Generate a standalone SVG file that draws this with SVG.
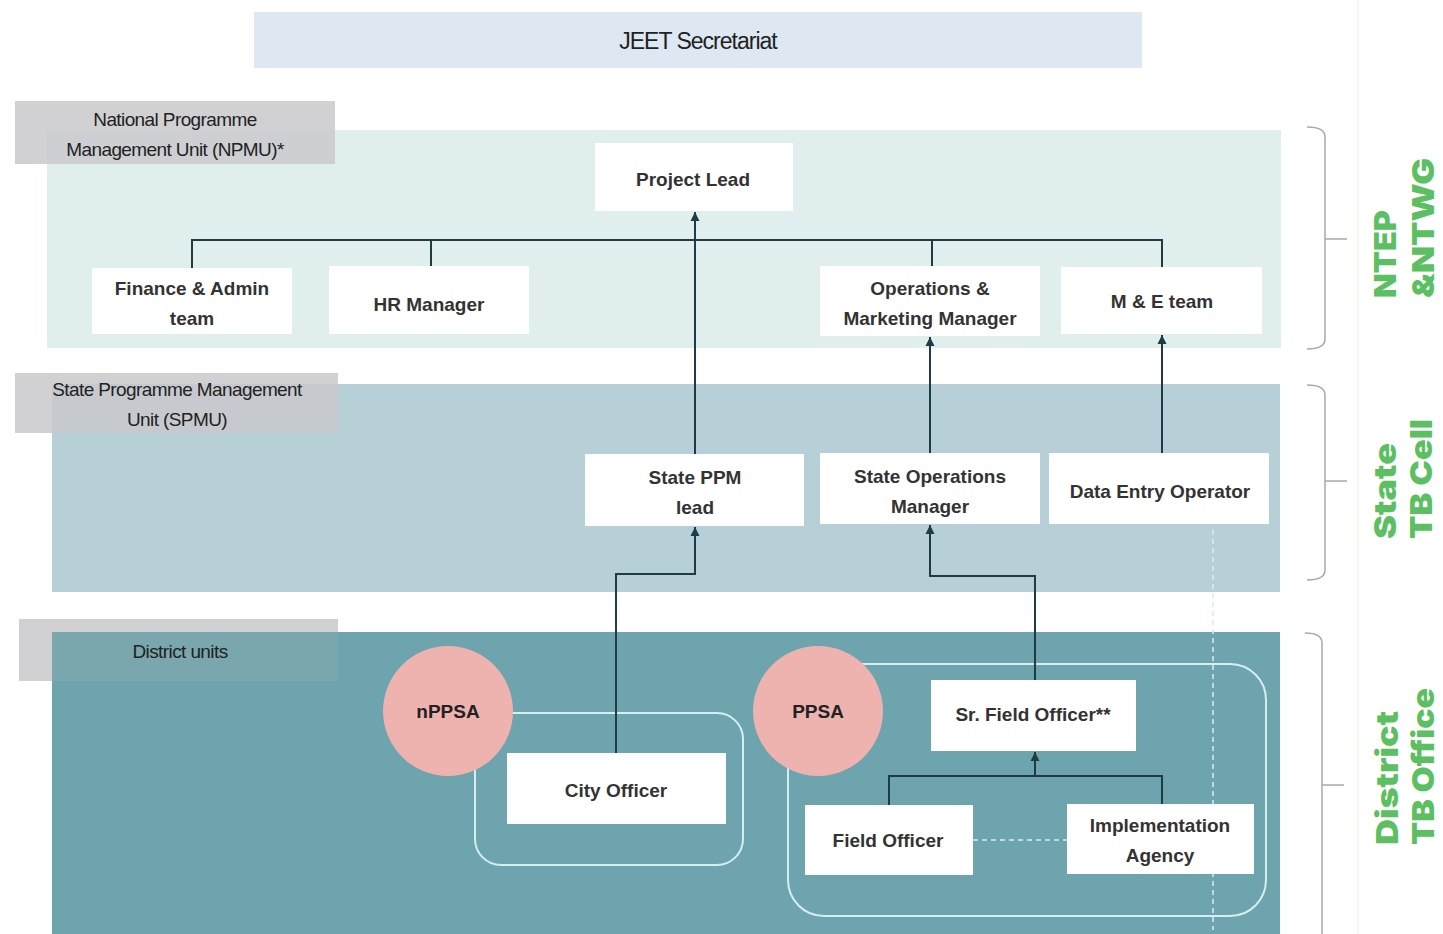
<svg xmlns="http://www.w3.org/2000/svg" width="1443" height="934" viewBox="0 0 1443 934">
<style>
.node rect{fill:#ffffff}
.node text{font-family:"Liberation Sans",Arial,sans-serif;font-weight:bold;font-size:19px;fill:#333;text-anchor:middle}
.lbl{font-family:"Liberation Sans",Arial,sans-serif;font-size:19px;fill:#222;text-anchor:middle;letter-spacing:-0.6px}
.gbox{fill:#c9c9cc;opacity:0.85}
.conn path{fill:none;stroke:#1f3b44;stroke-width:2}
.circ circle{fill:#eeb3ae}
.circ text{font-family:"Liberation Sans",Arial,sans-serif;font-weight:bold;font-size:19px;fill:#222;text-anchor:middle}
.outline{fill:none;stroke:#d6eef1;stroke-width:2}
.dash{fill:none;stroke:#d6eef1;stroke-width:1.5;stroke-dasharray:5 4}
.brk{fill:none;stroke:#a9a9a9;stroke-width:1.5}
.side{font-family:Inter,"DejaVu Sans",sans-serif;font-weight:900;font-size:30px;fill:#5cbf62}
</style>
<defs>
<marker id="arr" viewBox="0 0 10 10" refX="10" refY="5" markerWidth="9" markerHeight="10" markerUnits="userSpaceOnUse" orient="auto">
<path d="M0,0 L10,5 L0,10 z" fill="#1f3b44"/>
</marker>
</defs>
<rect width="1443" height="934" fill="#ffffff"/>
<line x1="1358" y1="0" x2="1358" y2="934" stroke="#fbf2e8" stroke-width="1.5"/>

<!-- JEET -->
<g id="jeet">
<rect x="254" y="12" width="888" height="56" fill="#dde8f3"/>
<text x="698" y="49" style="font-family:'Liberation Sans',Arial,sans-serif;font-size:23px;fill:#222;text-anchor:middle;letter-spacing:-1px">JEET Secretariat</text>
</g>

<!-- bands -->
<g id="npmu-band">
<rect x="47" y="130" width="1234" height="218" fill="#e0eeee"/>
<rect class="gbox" x="15" y="101" width="320" height="63"/>
<text class="lbl" x="175" y="126">National Programme</text>
<text class="lbl" x="175" y="156">Management Unit (NPMU)*</text>
</g>
<g id="spmu-band">
<rect x="52" y="384" width="1228" height="208" fill="#b7d0d8"/>
<rect class="gbox" x="15" y="373" width="323" height="60"/>
<text class="lbl" x="177" y="396">State Programme Management</text>
<text class="lbl" x="177" y="426">Unit (SPMU)</text>
</g>
<g id="district-band">
<rect class="gbox" x="19" y="619" width="319" height="62"/>
<rect x="52" y="632" width="1228" height="302" fill="#6ea4ae"/>
<rect x="52" y="632" width="286" height="49" fill="#8aa8ae" opacity="0.45"/>
<text class="lbl" x="180" y="658">District units</text>
</g>

<!-- outlines -->
<rect class="outline" x="475" y="713" width="268" height="152" rx="26"/>
<rect class="outline" x="788" y="664" width="478" height="252" rx="36"/>
<line class="dash" x1="1213" y1="530" x2="1213" y2="930"/>
<line class="dash" x1="973" y1="840" x2="1067" y2="840"/>

<!-- connectors -->
<g id="connectors" class="conn">
<path d="M192,268 V240 H1162 V267"/>
<path d="M431,240 V266"/>
<path d="M932,240 V266"/>
<path d="M695,454 V212" marker-end="url(#arr)"/>
<path d="M930,453 V337" marker-end="url(#arr)"/>
<path d="M1162,453 V335" marker-end="url(#arr)"/>
<path d="M616,753 V574 H695 V527" marker-end="url(#arr)"/>
<path d="M1035,680 V576 H930 V525" marker-end="url(#arr)"/>
<path d="M889,805 V776 H1162 V804"/>
<path d="M1035,776 V752" marker-end="url(#arr)"/>
</g>

<!-- circles -->
<g id="nppsa" class="circ"><circle cx="448" cy="711" r="65"/><text x="448" y="718">nPPSA</text></g>
<g id="ppsa" class="circ"><circle cx="818" cy="711" r="65"/><text x="818" y="718">PPSA</text></g>

<!-- nodes -->
<g id="project-lead" class="node"><rect x="595" y="143" width="198" height="68"/><text x="693" y="186">Project Lead</text></g>
<g id="finance-admin" class="node"><rect x="92" y="268" width="200" height="66"/><text x="192" y="295">Finance &amp; Admin</text><text x="192" y="325">team</text></g>
<g id="hr-manager" class="node"><rect x="329" y="266" width="200" height="68"/><text x="429" y="311">HR Manager</text></g>
<g id="ops-marketing" class="node"><rect x="820" y="266" width="220" height="70"/><text x="930" y="295">Operations &amp;</text><text x="930" y="325">Marketing Manager</text></g>
<g id="me-team" class="node"><rect x="1061" y="267" width="201" height="67"/><text x="1162" y="308">M &amp; E  team</text></g>
<g id="state-ppm" class="node"><rect x="585" y="454" width="219" height="72"/><text x="695" y="484">State PPM</text><text x="695" y="514">lead</text></g>
<g id="state-ops" class="node"><rect x="820" y="453" width="220" height="71"/><text x="930" y="483">State Operations</text><text x="930" y="513">Manager</text></g>
<g id="data-entry" class="node"><rect x="1049" y="453" width="220" height="71"/><text x="1160" y="498">Data Entry Operator</text></g>
<g id="city-officer" class="node"><rect x="507" y="753" width="219" height="71"/><text x="616" y="797">City Officer</text></g>
<g id="sr-field-officer" class="node"><rect x="931" y="680" width="205" height="71"/><text x="1033" y="721">Sr. Field Officer**</text></g>
<g id="field-officer" class="node"><rect x="805" y="805" width="168" height="70"/><text x="888" y="847">Field Officer</text></g>
<g id="impl-agency" class="node"><rect x="1067" y="804" width="187" height="70"/><text x="1160" y="832">Implementation</text><text x="1160" y="862">Agency</text></g>

<!-- brackets -->
<g id="brackets">
<path class="brk" d="M1307,127 Q1325,127 1325,137 V339 Q1325,349 1307,349 M1325,239 H1347"/>
<path class="brk" d="M1307,385 Q1325,385 1325,395 V570 Q1325,580 1307,580 M1325,481 H1347"/>
<path class="brk" d="M1305,633 Q1322,633 1322,643 V934 M1322,785 H1344"/>
</g>

<!-- side labels -->
<g id="side-ntep">
<text class="side" transform="translate(1396,298) rotate(-90)" textLength="88" lengthAdjust="spacingAndGlyphs">NTEP</text>
<text class="side" transform="translate(1434,298) rotate(-90)" textLength="140" lengthAdjust="spacingAndGlyphs">&amp;NTWG</text>
</g>
<g id="side-state">
<text class="side" transform="translate(1396,539) rotate(-90)" textLength="96" lengthAdjust="spacingAndGlyphs">State</text>
<text class="side" transform="translate(1432,539) rotate(-90)" textLength="120" lengthAdjust="spacingAndGlyphs">TB Cell</text>
</g>
<g id="side-district">
<text class="side" transform="translate(1398,845) rotate(-90)" textLength="134" lengthAdjust="spacingAndGlyphs">District</text>
<text class="side" transform="translate(1434,845) rotate(-90)" textLength="157" lengthAdjust="spacingAndGlyphs">TB Office</text>
</g>
</svg>
